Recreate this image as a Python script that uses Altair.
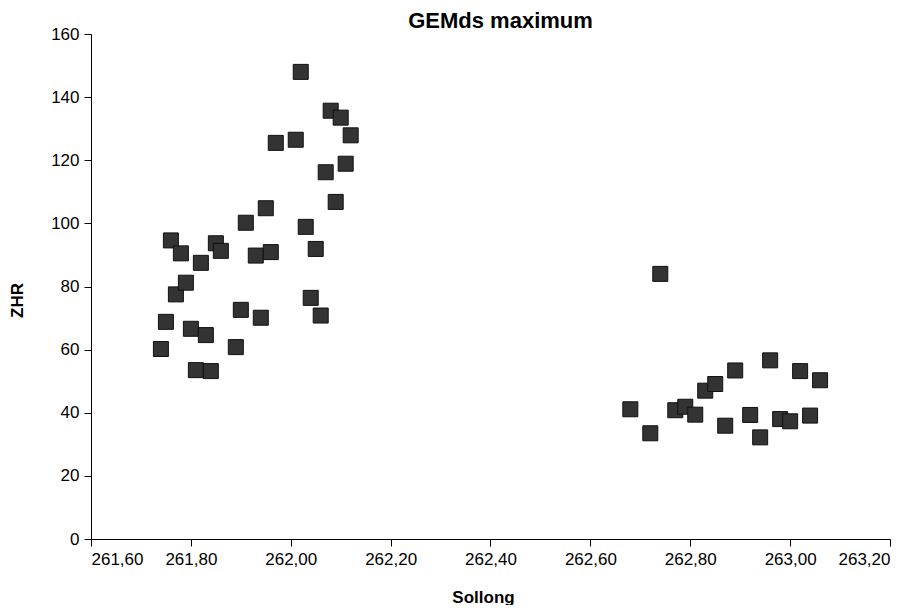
import altair as alt
import pandas as pd

sollong = [
    261.74, 261.75, 261.76, 261.77, 261.78, 261.79, 261.80, 261.81, 261.82, 261.83,
    261.84, 261.85, 261.86, 261.89, 261.90, 261.91, 261.93, 261.94, 261.95, 261.96,
    261.97, 262.01, 262.02, 262.03, 262.04, 262.05, 262.06, 262.07, 262.08, 262.09,
    262.10, 262.11, 262.12,
    262.68, 262.72, 262.74, 262.77, 262.79, 262.81, 262.83, 262.85, 262.87, 262.89,
    262.92, 262.94, 262.96, 262.98, 263.02, 263.00, 263.04, 263.06,
]
zhr = [
    60.2, 68.8, 94.6, 77.5, 90.5, 81.2, 66.6, 53.5, 87.5, 64.6,
    53.2, 93.7, 91.3, 60.8, 72.6, 100.2, 89.8, 70.1, 104.8, 90.9,
    125.5, 126.5, 148.0, 98.9, 76.4, 91.9, 70.8, 116.2, 135.7, 106.8,
    133.5, 118.9, 127.9,
    41.1, 33.5, 84.0, 40.8, 41.9, 39.4, 47.0, 49.1, 35.9, 53.4,
    39.3, 32.2, 56.6, 38.0, 53.2, 37.3, 39.1, 50.3,
]

x_ticks = [261.6, 261.8, 262.0, 262.2, 262.4, 262.6, 262.8, 263.0, 263.2]
y_ticks = [0, 20, 40, 60, 80, 100, 120, 140, 160]

df = pd.DataFrame({"Sollong": sollong, "ZHR": zhr})

font = "Liberation Sans"

chart = (
    alt.Chart(df)
    .mark_square(size=225, fill="#333333", stroke="#111111", strokeWidth=1, opacity=1)
    .encode(
        x=alt.X(
            "Sollong:Q",
            scale=alt.Scale(domain=[261.6, 263.2], nice=False, zero=False),
            axis=alt.Axis(
                values=x_ticks,
                labelExpr="replace(format(datum.value, '.2f'), '.', ',')",
                title="Sollong",
                titlePadding=22,
                titleX=392,
            ),
        ),
        y=alt.Y(
            "ZHR:Q",
            scale=alt.Scale(domain=[0, 160], nice=False),
            axis=alt.Axis(
                values=y_ticks,
                title="ZHR",
                titlePadding=24,
                titleY=266,
            ),
        ),
    )
    .properties(
        width=799,
        height=505,
        title=alt.TitleParams(
            "GEMds maximum",
            font=font,
            fontSize=22,
            fontWeight="bold",
            color="#000000",
            anchor="middle",
            offset=-8,
            dx=10,
        ),
        autosize=alt.AutoSizeParams(type="none"),
        padding={"left": 83, "top": 26, "right": 20, "bottom": 66},
    )
    .configure_view(stroke=None)
    .configure_axis(
        grid=False,
        domainColor="#000000",
        domainWidth=1,
        tickColor="#000000",
        tickSize=7,
        labelFont=font,
        labelFontSize=17,
        labelColor="#000000",
        titleFont=font,
        titleFontSize=17,
        titleFontWeight="bold",
        titleColor="#000000",
        labelPadding=5,
    )
)

chart.save("out.html", embed_options={"renderer": "svg", "actions": False})
